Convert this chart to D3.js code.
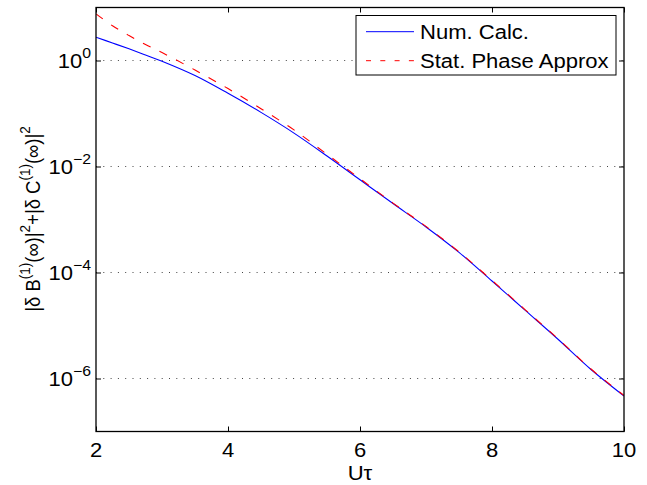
<!DOCTYPE html>
<html>
<head>
<meta charset="utf-8">
<script src="https://cdn.jsdelivr.net/npm/d3@7"></script>
<style>
  html, body { margin: 0; padding: 0; background: #fff; }
  svg { display: block; font-family: "Liberation Sans", Arial, Helvetica, sans-serif; }
</style>
</head>
<body>
<svg id="chart" width="647" height="485"></svg>
<script>
// ---- data ----
const numX = [2, 2.25, 2.5, 2.75, 3, 3.5, 4, 4.5, 5, 5.5, 6, 6.5, 7, 7.5, 8, 8.5, 9, 9.5, 10];
const numY = [2.75, 2.14, 1.66, 1.27, 0.966, 0.519, 0.240, 0.105, 0.0427, 0.0158,
              5.62e-3, 2.00e-3, 7.24e-4, 2.40e-4, 6.92e-5, 1.95e-5, 5.50e-6, 1.48e-6, 4.68e-7];
const spaX = [2, 2.25, 2.5, 2.75, 3, 3.5, 4, 4.5, 5, 5.5, 6, 6.5, 7, 7.5, 8, 8.5, 9, 9.5, 10];
const spaY = [7.59, 4.52, 2.95, 2.00, 1.41, 0.661, 0.295, 0.123, 0.0490, 0.0170,
              5.89e-3, 2.04e-3, 7.41e-4, 2.45e-4, 7.08e-5, 2.00e-5, 5.62e-6, 1.51e-6, 4.79e-7];
const xTicks = [2, 4, 6, 8, 10];
const yTickExps = [0, -2, -4, -6];
const seriesNames = ["Num. Calc.", "Stat. Phase Approx"];
const seriesColors = ["#0000ff", "#ff0000"];

// ---- layout ----
const L = 96, R = 624, T = 7.5, B = 431.5;
const SX = 1.13; // horizontal stretch of text glyphs seen in the reference
const FS = 19.5, SUP = 14;
const svg = d3.select("#chart");

const x = d3.scaleLinear().domain([2, 10]).range([L, R]);
const y = d3.scaleLog().domain([1e-7, 1e1]).range([B, T]);

function stretchedText(parent, px, py, anchor) {
  return parent.append("g").attr("transform", `translate(${px},${py}) scale(${SX},1)`)
    .append("text").attr("x", 0).attr("y", 0).attr("text-anchor", anchor)
    .attr("font-size", FS).attr("fill", "#000");
}

// grid lines (y only, dotted)
svg.append("g").selectAll("line").data(yTickExps).join("line")
  .attr("x1", L).attr("x2", R)
  .attr("y1", d => y(Math.pow(10, d))).attr("y2", d => y(Math.pow(10, d)))
  .attr("stroke", "#444").attr("stroke-width", 1).attr("stroke-dasharray", "1,6.3");

// lines
const line = d3.line().x(d => x(d[0])).y(d => y(d[1])).curve(d3.curveCatmullRom.alpha(0.5));
svg.append("clipPath").attr("id", "clip").append("rect")
  .attr("x", L).attr("y", T).attr("width", R - L).attr("height", B - T);

svg.append("path").datum(numX.map((v, i) => [v, numY[i]]))
  .attr("d", line).attr("fill", "none").attr("stroke", seriesColors[0]).attr("stroke-width", 1.1)
  .attr("clip-path", "url(#clip)");
svg.append("path").datum(spaX.map((v, i) => [v, spaY[i]]))
  .attr("d", line).attr("fill", "none").attr("stroke", seriesColors[1]).attr("stroke-width", 1.1)
  .attr("stroke-dasharray", "8.5,10").attr("clip-path", "url(#clip)");

// axes box
svg.append("rect").attr("x", L).attr("y", T).attr("width", R - L).attr("height", B - T)
  .attr("fill", "none").attr("stroke", "#000").attr("stroke-width", 1.3);

// x ticks (inside, bottom and top) via d3 axes
const xAxisB = d3.axisBottom(x).tickValues(xTicks).tickSizeInner(-5).tickSizeOuter(0).tickFormat("");
const gxb = svg.append("g").attr("transform", `translate(0,${B})`).call(xAxisB);
gxb.select(".domain").remove();
gxb.selectAll("line").attr("stroke", "#000");
const xAxisT = d3.axisTop(x).tickValues(xTicks).tickSizeInner(-5).tickSizeOuter(0).tickFormat("");
const gxt = svg.append("g").attr("transform", `translate(0,${T})`).call(xAxisT);
gxt.select(".domain").remove();
gxt.selectAll("line").attr("stroke", "#000");

// x tick labels
const xlg = svg.append("g");
xTicks.forEach(t => stretchedText(xlg, x(t), 457, "middle").text(d3.format("d")(t)));

// y ticks (inside, left and right)
const yTickVals = yTickExps.map(e => Math.pow(10, e));
const yAxisL = d3.axisLeft(y).tickValues(yTickVals).tickSizeInner(-5).tickSizeOuter(0).tickFormat("");
const gyl = svg.append("g").attr("transform", `translate(${L},0)`).call(yAxisL);
gyl.select(".domain").remove();
gyl.selectAll("line").attr("stroke", "#000");
const yAxisR = d3.axisRight(y).tickValues(yTickVals).tickSizeInner(-5).tickSizeOuter(0).tickFormat("");
const gyr = svg.append("g").attr("transform", `translate(${R},0)`).call(yAxisR);
gyr.select(".domain").remove();
gyr.selectAll("line").attr("stroke", "#000");

// y tick labels 10^n
const ylg = svg.append("g");
yTickExps.forEach(e => {
  const t = stretchedText(ylg, 91, y(Math.pow(10, e)) + 7.5, "end");
  t.append("tspan").text("10");
  t.append("tspan").attr("dy", -10).attr("font-size", SUP)
    .text(e === 0 ? "0" : "\u2212" + Math.abs(e));
});

// x label
stretchedText(svg, 360, 480, "middle").text("U\u03c4");

// y label (rotated; glyph stretch applies across the text)
const ylab = svg.append("text").attr("transform", "translate(40,219) rotate(-90) scale(1,1.13)")
  .attr("text-anchor", "middle").attr("font-size", 18.5).attr("fill", "#000");
const parts = [["|\u03b4 B", 0], ["(1)", 1], ["(\u221e)|", 0], ["2", 1], ["+|\u03b4 C", 0], ["(1)", 1], ["(\u221e)|", 0], ["2", 1]];
let prevSup = 0;
parts.forEach(([t, s]) => {
  const ts = ylab.append("tspan").text(t).attr("font-size", s ? 13.5 : 18.5);
  const dy = (s ? -9 : 0) - (prevSup ? -9 : 0);
  if (dy !== 0) ts.attr("dy", dy);
  prevSup = s;
});

// legend
const lg = svg.append("g");
lg.append("rect").attr("x", 356).attr("y", 15.5).attr("width", 260).attr("height", 59.5)
  .attr("fill", "#fff").attr("stroke", "#000").attr("stroke-width", 1);
const rows = [31.7, 60.7];
seriesNames.forEach((name, i) => {
  lg.append("line").attr("x1", 366).attr("x2", 414).attr("y1", rows[i]).attr("y2", rows[i])
    .attr("stroke", seriesColors[i]).attr("stroke-width", 1)
    .attr("stroke-dasharray", i === 1 ? "5,9.3" : null);
  stretchedText(lg, 420, rows[i] + 7, "start").text(name);
});
</script>
</body>
</html>
